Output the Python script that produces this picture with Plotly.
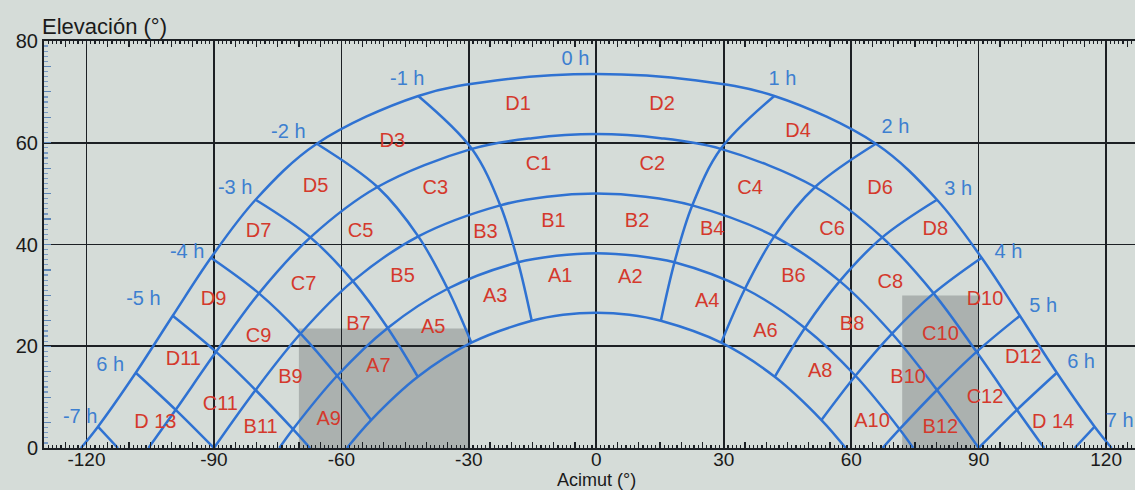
import plotly.graph_objects as go

# ---------------- data ----------------
# sun-path arcs (azimuth deg, elevation deg)
arc1_az = [-121.3, -117.3, -108.4, -99.7, -90.7, -80.2, -65.8, -41.9, -23.2, 0, 23.2, 41.9, 65.8, 80.2, 90.7, 99.7, 108.4, 117.3, 121.3]
arc1_el = [0, 4.2, 14.8, 26.0, 37.4, 48.8, 59.8, 69.2, 72.3, 73.5, 72.3, 69.2, 59.8, 48.8, 37.4, 26.0, 14.8, 4.2, 0]
arc2_az = [-105.4, -99.0, -89.5, -79.4, -67.3, -51.5, -29.3, -15.1, 0, 15.1, 29.3, 51.5, 67.3, 79.4, 89.5, 99.0, 105.4]
arc2_el = [0, 7.5, 18.9, 30.4, 41.4, 51.3, 58.8, 60.9, 61.7, 60.9, 58.8, 51.3, 41.4, 30.4, 18.9, 7.5, 0]
arc3_az = [-90, -80.2, -69.6, -57.3, -41.9, -22.6, -11.6, 0, 11.6, 22.6, 41.9, 57.3, 69.6, 80.2, 90]
arc3_el = [0, 11.4, 22.5, 32.8, 41.6, 47.7, 49.4, 50.0, 49.4, 47.7, 41.6, 32.8, 22.5, 11.4, 0]
arc4_az = [-74.6, -71.4, -61.0, -49.1, -35.0, -18.4, -9.4, 0, 9.4, 18.4, 35.0, 49.1, 61.0, 71.4, 74.6]
arc4_el = [0, 3.7, 14.2, 23.6, 31.3, 36.5, 37.8, 38.3, 37.8, 36.5, 31.3, 23.6, 14.2, 3.7, 0]
arc5_az = [-58.7, -53.0, -42.0, -29.4, -15.2, -7.8, 0, 7.8, 15.2, 29.4, 42.0, 53.0, 58.7]
arc5_el = [0, 5.5, 14.0, 20.7, 25.0, 26.2, 26.6, 26.2, 25.0, 20.7, 14.0, 5.5, 0]

# hour lines
h_m1_az = [-41.9, -29.3, -22.6, -18.4, -15.2];  h_m1_el = [69.2, 58.8, 47.7, 36.5, 25.0]
h_p1_az = [41.9, 29.3, 22.6, 18.4, 15.2];       h_p1_el = [69.2, 58.8, 47.7, 36.5, 25.0]
h_m2_az = [-65.8, -51.5, -41.9, -35.0, -29.4];  h_m2_el = [59.8, 51.3, 41.6, 31.3, 20.7]
h_p2_az = [65.8, 51.5, 41.9, 35.0, 29.4];       h_p2_el = [59.8, 51.3, 41.6, 31.3, 20.7]
h_m3_az = [-80.2, -67.3, -57.3, -49.1, -42.0];  h_m3_el = [48.8, 41.4, 32.8, 23.6, 14.0]
h_p3_az = [80.2, 67.3, 57.3, 49.1, 42.0];       h_p3_el = [48.8, 41.4, 32.8, 23.6, 14.0]
h_m4_az = [-90.7, -79.4, -69.6, -61.0, -53.0];  h_m4_el = [37.4, 30.4, 22.5, 14.2, 5.5]
h_p4_az = [90.7, 79.4, 69.6, 61.0, 53.0];       h_p4_el = [37.4, 30.4, 22.5, 14.2, 5.5]
h_m5_az = [-99.7, -89.5, -80.2, -71.4, -67.4];  h_m5_el = [26.0, 18.9, 11.4, 3.7, 0]
h_p5_az = [99.7, 89.5, 80.2, 71.4, 67.4];       h_p5_el = [26.0, 18.9, 11.4, 3.7, 0]
h_m6_az = [-108.4, -99.0, -90.0];               h_m6_el = [14.8, 7.5, 0]
h_p6_az = [108.4, 99.0, 90.0];                  h_p6_el = [14.8, 7.5, 0]
h_m7_az = [-117.3, -112.6];                     h_m7_el = [4.2, 0]
h_p7_az = [117.3, 112.6];                       h_p7_el = [4.2, 0]

# hour labels
hour_text = ["-7 h", "6 h", "-5 h", "-4 h", "-3 h", "-2 h", "-1 h", "0 h", "1 h", "2 h", "3 h", "4 h", "5 h", "6 h", "7 h"]
hour_az = [-121.5, -114.4, -106.6, -96.3, -85.0, -72.5, -44.5, -4.9, 43.8, 70.4, 85.2, 97.0, 105.2, 114.1, 123.2]
hour_el = [5.9, 16.1, 29.0, 38.3, 51.0, 62.0, 72.3, 76.2, 72.3, 62.9, 50.7, 38.3, 27.7, 16.7, 5.1]

# zone labels
zone_text = ["D1", "D2", "D3", "D4", "C1", "C2", "C3", "C4", "D5", "D6", "D7", "C5", "B3", "B1", "B2", "B4",
             "C6", "D8", "C7", "B5", "A3", "A1", "A2", "A4", "B6", "C8", "D10", "D9", "B7", "A5", "C9", "A6",
             "B8", "C10", "D11", "A7", "D12", "B9", "A8", "B10", "C11", "C12", "D 13", "B11", "A9", "A10",
             "B12", "D 14"]
zone_az = [-18.4, 15.5, -48.0, 47.5, -13.6, 13.2, -37.9, 36.2, -66.1, 66.8, -79.5, -55.5, -26.1, -10.1, 9.6, 27.3,
           55.5, 79.8, -68.9, -45.6, -23.8, -8.5, 8.0, 26.1, 46.4, 69.2, 91.5, -90.1, -56.0, -38.4, -79.5, 39.8,
           60.2, 81.0, -97.2, -51.3, 100.5, -72.0, 52.7, 73.4, -88.5, 91.5, -103.8, -79.0, -63.0, 64.9,
           81.0, 107.5]
zone_el = [67.4, 67.4, 60.1, 62.1, 55.6, 55.6, 51.0, 51.0, 51.3, 51.0, 42.4, 42.4, 42.2, 44.4, 44.4, 42.8,
           42.8, 42.8, 32.0, 33.6, 29.7, 33.6, 33.4, 28.7, 33.6, 32.4, 29.0, 29.0, 24.2, 23.6, 21.8, 22.8,
           24.2, 22.2, 17.3, 15.9, 17.7, 13.8, 14.9, 13.8, 8.4, 9.8, 4.9, 3.9, 5.5, 5.1,
           3.9, 4.9]

# obstacles (shaded rectangles)
obst_az_from = [-70, 72]
obst_az_to = [-30, 90]
obst_el_top = [23.5, 30]

x_ticks = [-120, -90, -60, -30, 0, 30, 60, 90, 120]
x_tick_labels = ["-120", "-90", "-60", "-30", "0", "30", "60", "90", "120"]
y_ticks = [0, 20, 40, 60, 80]

# ---------------- styling ----------------
BG = "#d5dcd8"
BLUE = "#2f72d2"
BLUE_TXT = "#3d7fd0"
RED = "#d4392c"
GRID = "#1c2024"
FONT = "Liberation Sans, Arial, sans-serif"
XR = [-130, 126.8]

fig = go.Figure()

for i in range(len(obst_az_from)):
    fig.add_shape(type="rect", xref="x", yref="y",
                  x0=obst_az_from[i], x1=obst_az_to[i], y0=0, y1=obst_el_top[i],
                  fillcolor="rgba(85,88,90,0.32)", line=dict(width=0), layer="below")

curves = [(arc1_az, arc1_el), (arc2_az, arc2_el), (arc3_az, arc3_el), (arc4_az, arc4_el), (arc5_az, arc5_el),
          (h_m1_az, h_m1_el), (h_p1_az, h_p1_el), (h_m2_az, h_m2_el), (h_p2_az, h_p2_el),
          (h_m3_az, h_m3_el), (h_p3_az, h_p3_el), (h_m4_az, h_m4_el), (h_p4_az, h_p4_el),
          (h_m5_az, h_m5_el), (h_p5_az, h_p5_el), (h_m6_az, h_m6_el), (h_p6_az, h_p6_el),
          (h_m7_az, h_m7_el), (h_p7_az, h_p7_el)]
for az, el in curves:
    fig.add_trace(go.Scatter(x=az, y=el, mode="lines",
                             line=dict(color=BLUE, width=2.5, shape="spline", smoothing=1.0),
                             hoverinfo="skip", showlegend=False, cliponaxis=True))

fig.add_trace(go.Scatter(x=hour_az, y=hour_el, text=hour_text, mode="text",
                         textfont=dict(color=BLUE_TXT, size=20, family=FONT),
                         showlegend=False, hoverinfo="skip", cliponaxis=False))
fig.add_trace(go.Scatter(x=zone_az, y=zone_el, text=zone_text, mode="text",
                         textfont=dict(color=RED, size=20, family=FONT),
                         showlegend=False, hoverinfo="skip", cliponaxis=False))

# invisible traces to anchor the ruler-tick axes
for xa, ya in [("x2", "y"), ("x3", "y"), ("x", "y2")]:
    fig.add_trace(go.Scatter(x=[0], y=[0], xaxis=xa, yaxis=ya, mode="markers",
                             marker=dict(opacity=0), showlegend=False, hoverinfo="skip"))

fig.update_layout(
    width=1135, height=490,
    margin=dict(l=44, r=0, t=41, b=42, autoexpand=False),
    paper_bgcolor=BG, plot_bgcolor=BG,
    font=dict(family=FONT, color="#1a1a1a", size=20),
    xaxis=dict(range=XR, tickvals=x_ticks, ticktext=x_tick_labels, showgrid=True, gridcolor=GRID,
               gridwidth=1.6, zeroline=False, showline=True, linecolor=GRID, linewidth=2, mirror=True,
               ticks="", automargin=False, ticklabelstandoff=-7,
               tickfont=dict(size=19, family=FONT, color="#1a1a1a")),
    xaxis2=dict(range=XR, overlaying="x", anchor="y", side="bottom", showgrid=False, zeroline=False,
                automargin=False, showticklabels=False, ticks="inside", dtick=5, tick0=0, ticklen=6,
                tickwidth=1.2, tickcolor=GRID,
                minor=dict(dtick=1, ticklen=3, tickcolor=GRID, ticks="inside", showgrid=False)),
    xaxis3=dict(range=XR, overlaying="x", anchor="y", side="top", showgrid=False, zeroline=False,
                automargin=False, showticklabels=False, ticks="inside", dtick=5, tick0=0, ticklen=6,
                tickwidth=1.2, tickcolor=GRID,
                minor=dict(dtick=1, ticklen=3, tickcolor=GRID, ticks="inside", showgrid=False)),
    yaxis=dict(range=[0, 80], tickvals=y_ticks, showgrid=True, gridcolor=GRID, gridwidth=1.6,
               zeroline=False, showline=True, linecolor=GRID, linewidth=2, ticks="", automargin=False,
               tickfont=dict(size=20, family=FONT, color="#1a1a1a")),
    yaxis2=dict(range=[0, 80], overlaying="y", anchor="x", side="left", showgrid=False, zeroline=False,
                automargin=False, showticklabels=False, ticks="inside", dtick=5, tick0=0, ticklen=7,
                tickwidth=1.2, tickcolor="#5d86b8",
                minor=dict(dtick=1, ticklen=4, tickcolor="#7a9cc6", ticks="inside", showgrid=False)),
    annotations=[
        dict(text="Elevación (°)", x=0, xref="paper", y=1, yref="paper", xanchor="left", yanchor="bottom",
             yshift=0, xshift=-4, showarrow=False, font=dict(size=22, family=FONT, color="#1a1a1a")),
        dict(text="Acimut (°)", x=0, xref="x", y=0, yref="paper", xanchor="center", yanchor="top",
             yshift=-20, showarrow=False, font=dict(size=18, family=FONT, color="#1a1a1a")),
    ],
)

fig.write_html(
    "out.html",
    config={"displayModeBar": False, "staticPlot": True},
    post_script="document.body.style.margin='0';document.body.style.background='" + BG + "';"
                "document.body.style.overflow='hidden';",
)
